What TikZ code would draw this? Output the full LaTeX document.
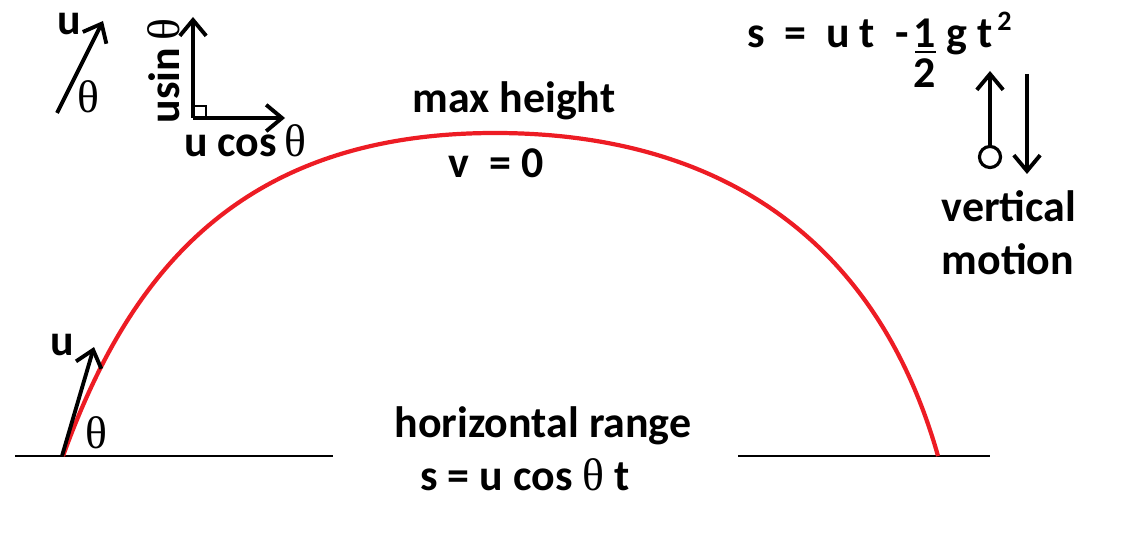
\documentclass[tikz,border=0pt]{standalone}
\usepackage{fontspec}
\setmainfont{Carlito}
\newfontfamily\thetafont{Liberation Serif}
\usetikzlibrary{arrows.meta,positioning}
\definecolor{pathred}{RGB}{237,28,36}
\newcommand{\thet}{{\thetafont\mdseries\fontsize{26}{26}\selectfont θ}}

\begin{document}
\begin{tikzpicture}[x=0.02cm,y=-0.02cm,
    vec/.style={line width=2.2pt,-{Straight Barb[length=9pt,width=15pt,line width=2.2pt]}},
    lbl/.style={anchor=base,inner sep=0pt,font=\fontsize{25}{27}\selectfont\bfseries},
    ground/.style={line width=1.5pt}]
    \useasboundingbox (0,0) rectangle (1148,560);
    % ground
    \coordinate (gl1) at (15,456);
    \coordinate (gl2) at (333,456);
    \coordinate (gr1) at (738,456);
    \coordinate (gr2) at (990,456);
    \draw [ground] (gl1) -- (gl2);
    \draw [ground] (gr1) -- (gr2);
    % trajectory
    \coordinate (start) at (63,456);
    \coordinate (top) at (495,133);
    \coordinate (land) at (938,456);
    \draw [pathred, line width=2.4pt] (start) .. controls (129,273) and (240,133) .. (top)
        .. controls (725,133) and (878,244) .. (land);
    % launch velocity
    \coordinate (launch) at (62,456);
    \coordinate (launchtip) at (94,347);
    \draw [vec] (launch) -- (launchtip);
    \node [lbl] (ulaunch) at (62,355) {u};
    \node [lbl] (thlaunch) at (96,448) {\thet};
    % velocity and components
    \coordinate (ua) at (57,113);
    \coordinate (ub) at (103,21);
    \draw [vec] (ua) -- (ub);
    \node [lbl] (utop) at (69,35) {u};
    \node [lbl] (thtop) at (88,113) {\thet};
    \coordinate (corner) at (193,118);
    \coordinate (vtip) at (193,17);
    \coordinate (htip) at (285,118);
    \draw [vec] (corner) -- (vtip);
    \draw [vec] (corner) -- (htip);
    \draw [line width=1.5pt] (193,106) -- (206,106) -- (206,118);
    \node [lbl, rotate=90] (usin) at (179,71) {usin\,\thet};
    \node [lbl] (ucos) at (245,157) {u cos\,\thet};
    % max height
    \node [lbl] (maxh) at (514,113) {max height};
    \node [lbl] (vzero) at (496,178) {v\ \ = 0};
    % range
    \node [lbl] (range) at (543,437) {horizontal range};
    \node [lbl] (srange) at (525,490) {s = u cos \thet\ t};
    % vertical motion
    \node [lbl, anchor=base west] (eqa) at (747,48) {s\ \ =\ \ u t\ \ -};
    \node [lbl] (one) at (925,48) {1};
    \draw [line width=1.7pt] (915,52) -- (936,52);
    \node [lbl] (two) at (925,88) {2};
    \node [lbl, anchor=base west] (gt) at (946,48) {g t};
    \node [lbl, anchor=base west, font=\fontsize{16}{16}\selectfont\bfseries] (sq) at (997,31) {2};
    \node [draw, circle, line width=1.8pt, minimum size=12pt, inner sep=0pt] (ball) at (990,157) {};
    \coordinate (uptip) at (990,71);
    \draw [vec] (ball) -- (uptip);
    \coordinate (dna) at (1027,74);
    \coordinate (dnb) at (1027,174);
    \draw [vec] (dna) -- (dnb);
    \node [lbl] (vert) at (1009,222) {vertical};
    \node [lbl] (motion) at (1008,275) {motion};
\end{tikzpicture}
\end{document}
